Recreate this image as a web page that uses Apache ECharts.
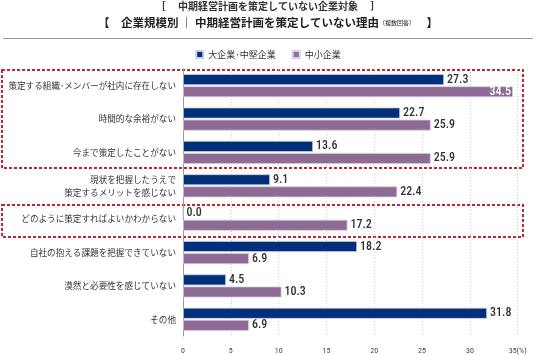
<!DOCTYPE html>
<html><head><meta charset="utf-8">
<script src="https://cdn.jsdelivr.net/npm/echarts@6/dist/echarts.min.js"></script>
<style>html,body{margin:0;padding:0;background:#fff}#c{width:536px;height:355px}</style>
</head><body><div id="c"></div>
<script>
const categories = [
  '策定する組織･メンバーが社内に存在しない',
  '時間的な余裕がない',
  '今まで策定したことがない',
  '現状を把握したうえで\n策定するメリットを感じない',
  'どのように策定すればよいかわからない',
  '自社の抱える課題を把握できていない',
  '漠然と必要性を感じていない',
  'その他'
];
const largeMid = [27.3, 22.7, 13.6, 9.1, 0.0, 18.2, 4.5, 31.8];
const small = [34.5, 25.9, 25.9, 22.4, 17.2, 6.9, 10.3, 6.9];
const seriesNames = ['大企業･中堅企業', '中小企業'];
const xTicks = [0, 5, 10, 15, 20, 25, 30, 35];

const CJK = '"Noto Sans CJK JP", sans-serif';
const NUM = '"Roboto Condensed", "Liberation Sans Narrow", "Roboto", sans-serif';
const chart = echarts.init(document.getElementById('c'));
const labelStyle = {show: true, position: 'right', distance: 3, color: '#333', fontSize: 12, fontWeight: 500, fontFamily: NUM, formatter: p => p.value.toFixed(1)};
const smallData = small.map((v, i) => i === 0 ? {value: v, label: {position: 'insideRight', color: '#fff', distance: 2}} : v);
chart.setOption({
  animation: false,
  graphic: [
    {type: 'text', left: 'center', top: 1, style: {text: '［　 中期経営計画を策定していない企業対象　 ］', font: 'bold 10px ' + CJK, fill: '#333'}},
    {type: 'text', left: 'center', top: 17, style: {
      text: '{a|【　企業規模別 ｜ 中期経営計画を策定していない理由}{b|（複数回答）}{a|　】}',
      rich: {a: {font: 'bold 11.5px ' + CJK, fill: '#222'}, b: {font: '6px ' + CJK, fill: '#222'}}}},
    {type: 'line', shape: {x1: 3, y1: 38.5, x2: 533, y2: 38.5}, style: {stroke: '#999', lineWidth: 1}},
    {type: 'rect', shape: {x: 2, y: 70, width: 521, height: 98}, style: {fill: 'none', stroke: '#c0272d', lineWidth: 2, lineDash: [3, 2]}},
    {type: 'rect', shape: {x: 2, y: 205, width: 521, height: 32}, style: {fill: 'none', stroke: '#c0272d', lineWidth: 2, lineDash: [3, 2]}}
  ],
  legend: {
    top: 45, left: 'center', itemWidth: 7, itemHeight: 7, itemGap: 16,
    icon: 'rect',
    textStyle: {fontSize: 9, fontFamily: CJK, color: '#333'},
    data: seriesNames
  },
  grid: {left: 183, right: 18.3, top: 69, bottom: 18, containLabel: false},
  xAxis: {
    type: 'value', min: 0, max: 35, interval: 5,
    axisLine: {show: false}, axisTick: {show: false},
    splitLine: {show: true, lineStyle: {color: '#d0d0d0', type: [1, 2]}},
    axisLabel: {fontSize: 8, color: '#444', margin: 11, fontFamily: NUM,
      formatter: v => xTicks.includes(v) ? (v === 35 ? '35(%)' : String(v)) : ''}
  },
  yAxis: {
    type: 'category', data: categories, inverse: true,
    axisLine: {show: true, lineStyle: {color: '#999'}}, axisTick: {show: false},
    axisLabel: {fontSize: 8.6, color: '#333', fontFamily: CJK, margin: 7, lineHeight: 13}
  },
  series: [
    {name: seriesNames[0], type: 'bar', data: largeMid, barWidth: 11, barGap: '10%',
     itemStyle: {color: '#00307a', borderColor: '#c9cde0', borderWidth: 0.8}, label: labelStyle},
    {name: seriesNames[1], type: 'bar', data: smallData, barWidth: 11, barGap: '10%',
     itemStyle: {color: '#8d6b95', borderColor: '#d8cde0', borderWidth: 0.8}, label: labelStyle}
  ]
});
</script></body></html>
